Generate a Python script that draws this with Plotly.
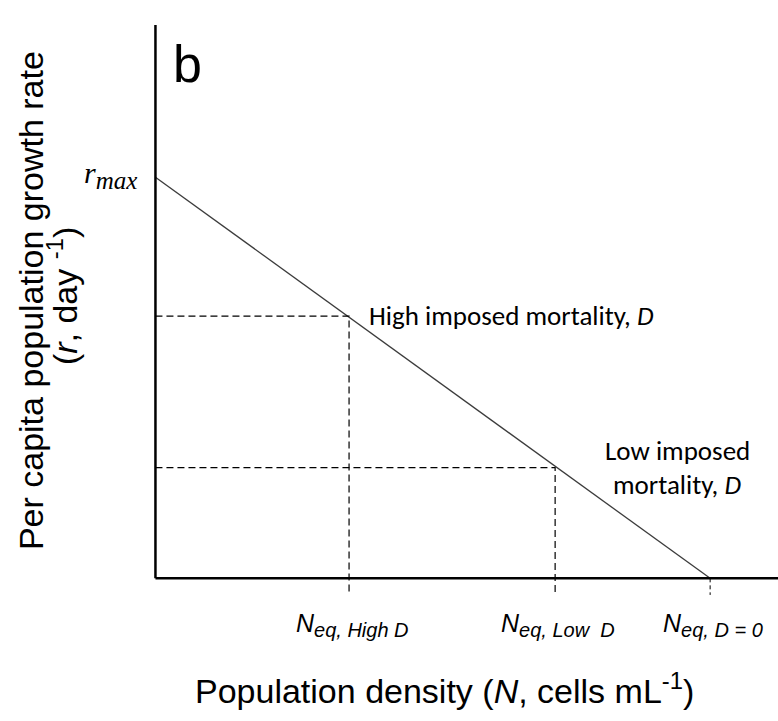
import plotly.graph_objects as go

# ---- data (arbitrary conceptual units) ----
r_max = 72.5
N_eq = [31.1, 64.2, 89.1]          # High D, Low D, D = 0
r_eq = [47.4, 20.0, 0.0]
N_subs = ["eq, High D", "eq, Low  D", "eq, D = 0"]

TICK_END = -3.0
X_RANGE = [-2, 100]
Y_RANGE = [-5, 100]

SANS = "Arial, 'Liberation Sans', sans-serif"
CALI = "Carlito, Lato, sans-serif"
SERIF = "'Times New Roman', 'Liberation Serif', serif"

fig = go.Figure()

fig.add_trace(go.Scatter(x=[0, N_eq[2]], y=[r_max, r_eq[2]], mode="lines",
                         line=dict(color="#3c3c3c", width=1.3), hoverinfo="skip"))

dash = "7px,4px"
for i in range(2):
    fig.add_trace(go.Scatter(x=[0, N_eq[i], N_eq[i]], y=[r_eq[i], r_eq[i], TICK_END],
                             mode="lines", line=dict(color="#000000", width=1.2, dash=dash),
                             hoverinfo="skip"))
fig.add_trace(go.Scatter(x=[N_eq[2], N_eq[2]], y=[r_eq[2], TICK_END], mode="lines",
                         line=dict(color="#000000", width=1.0, dash="4px,3px"), hoverinfo="skip"))

fig.add_shape(type="line", xref="x", yref="y", x0=0, x1=X_RANGE[1], y0=0, y1=0,
              line=dict(color="black", width=2.5), layer="above")
fig.add_shape(type="line", xref="x", yref="y", x0=0, x1=0, y0=0, y1=Y_RANGE[1],
              line=dict(color="black", width=2.5), layer="above")

ann = []
ann.append(dict(x=0, y=Y_RANGE[1], xref="x", yref="y", text="b", showarrow=False,
                xanchor="left", yanchor="top", xshift=16, yshift=-8,
                font=dict(family=SANS, size=52, color="black")))
ann.append(dict(x=0, y=r_max, xref="x", yref="y",
                text="<i>r</i><sub><span style='font-size:25px'><i>max</i></span></sub>",
                showarrow=False, xanchor="right", yanchor="middle", xshift=-16, yshift=2,
                font=dict(family=SERIF, size=30, color="black")))
for i in range(3):
    ann.append(dict(x=N_eq[i], y=0, xref="x", yref="y",
                    text="<i>N</i><sub><span style='font-size:20px'><i>" + N_subs[i] + "</i></span></sub>",
                    showarrow=False,
                    xanchor="center", yanchor="middle", yshift=-47, xshift=3,
                    font=dict(family=SANS, size=25, color="black")))
ann.append(dict(x=N_eq[0], y=r_eq[0], xref="x", yref="y",
                text="High imposed mortality, <i>D</i>", showarrow=False,
                xanchor="left", yanchor="middle", xshift=18, yshift=1,
                font=dict(family=CALI, size=27, color="black")))
ann.append(dict(x=N_eq[1], y=r_eq[1], xref="x", yref="y", text="Low imposed",
                showarrow=False, xanchor="center", yanchor="middle", xshift=122, yshift=17,
                font=dict(family=CALI, size=27, color="black")))
ann.append(dict(x=N_eq[1], y=r_eq[1], xref="x", yref="y", text="mortality, <i>D</i>",
                showarrow=False, xanchor="center", yanchor="middle", xshift=122, yshift=-17,
                font=dict(family=CALI, size=27, color="black")))
ann.append(dict(x=0, y=0, xref="x", yref="y",
                text="Population density (<i>N</i>, cells mL<sup>-1</sup>)", showarrow=False,
                xanchor="center", yanchor="middle", xshift=289, yshift=-110,
                font=dict(family=SANS, size=34, color="black")))
ann.append(dict(x=0, y=50, xref="x", yref="y", text="Per capita population growth rate",
                showarrow=False, textangle=-90, xanchor="center", yanchor="middle",
                xshift=-125, yshift=1,
                font=dict(family=SANS, size=34, color="black")))
ann.append(dict(x=0, y=50, xref="x", yref="y", text="(<i>r</i>, day <sup>-1</sup>)",
                showarrow=False, textangle=-90, xanchor="center", yanchor="middle",
                xshift=-93, yshift=6,
                font=dict(family=SANS, size=34, color="black")))

fig.update_layout(
    width=778, height=721, autosize=False,
    margin=dict(l=142.54, r=0, t=25, b=115.35, pad=0),
    paper_bgcolor="white", plot_bgcolor="white",
    showlegend=False,
    xaxis=dict(range=X_RANGE, visible=False, fixedrange=True),
    yaxis=dict(range=Y_RANGE, visible=False, fixedrange=True),
    annotations=ann,
)

fig.write_html("out.html")
